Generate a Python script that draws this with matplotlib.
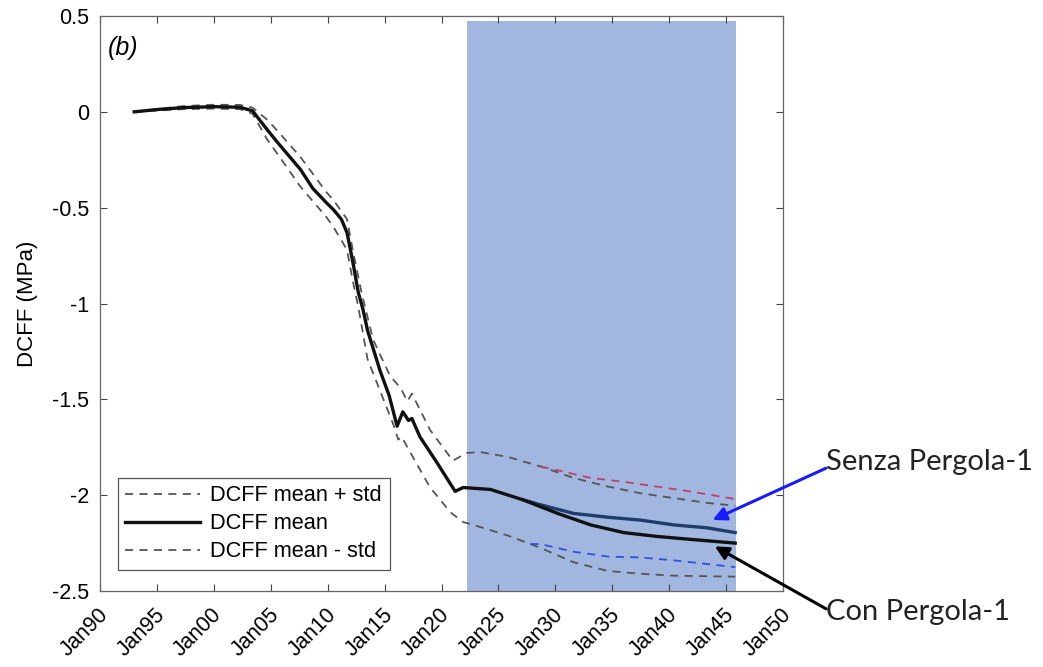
import matplotlib
matplotlib.use('Agg')
import matplotlib.pyplot as plt
import matplotlib.transforms as mtransforms
import numpy as np

# DCFF time series (x in decimal years)
mean_years = [1993.0, 1995.0, 1997.3, 2000.0, 2002.3, 2003.4, 2004.7, 2005.6, 2007.6,
              2008.7, 2009.9, 2010.5, 2011.2, 2011.7, 2012.2, 2012.7, 2013.1, 2013.5,
              2014.6, 2015.4, 2016.1, 2016.6, 2017.1, 2017.4, 2018.1, 2019.6, 2021.2,
              2021.9, 2024.3, 2027.2, 2030.2, 2033.1, 2036.0, 2038.9, 2041.8, 2045.8]
mean_vals = [0.000, 0.012, 0.022, 0.027, 0.024, 0.005, -0.094, -0.16, -0.30,
             -0.40, -0.475, -0.51, -0.56, -0.63, -0.78, -0.945, -1.03, -1.14,
             -1.35, -1.48, -1.64, -1.565, -1.61, -1.60, -1.695, -1.83, -1.98,
             -1.96, -1.97, -2.025, -2.095, -2.155, -2.195, -2.215, -2.23, -2.25]

upper_years = [1993.0, 1997.3, 2000.0, 2002.3, 2003.4, 2004.7, 2005.6, 2007.6, 2009.9,
               2010.5, 2011.7, 2012.2, 2013.0, 2014.0, 2015.5, 2016.4, 2017.0, 2017.4,
               2019.0, 2021.0, 2022.2, 2023.4, 2025.8, 2028.7, 2031.6, 2034.6, 2037.5,
               2040.4, 2043.3, 2045.8]
upper_vals = [0.000, 0.030, 0.037, 0.036, 0.022, -0.042, -0.10, -0.235, -0.42,
              -0.46, -0.56, -0.72, -0.95, -1.19, -1.38, -1.44, -1.51, -1.47,
              -1.66, -1.82, -1.78, -1.775, -1.80, -1.85, -1.91, -1.955, -1.99,
              -2.015, -2.04, -2.055]

lower_years = [1993.0, 1997.3, 2000.0, 2002.3, 2003.4, 2004.7, 2005.6, 2007.6, 2009.9,
               2010.5, 2011.7, 2012.2, 2012.7, 2013.5, 2015.7, 2016.2, 2016.5, 2017.1,
               2019.0, 2020.8, 2021.9, 2022.8, 2025.8, 2028.7, 2031.6, 2034.6, 2037.5,
               2040.4, 2045.8]
lower_vals = [0.000, 0.014, 0.017, 0.014, -0.01, -0.146, -0.22, -0.39, -0.55,
              -0.60, -0.72, -0.88, -1.02, -1.29, -1.62, -1.71, -1.695, -1.76,
              -1.96, -2.09, -2.14, -2.155, -2.21, -2.275, -2.35, -2.395, -2.41,
              -2.42, -2.425]

# "Senza Pergola-1" scenario (diverges from the mean after ~2027)
senza_years = [2027.2, 2028.7, 2031.6, 2034.6, 2037.5, 2040.4, 2043.3, 2045.8]
senza_vals = [-2.025, -2.05, -2.095, -2.115, -2.13, -2.155, -2.17, -2.195]
senza_up_years = [2028.7, 2030.2, 2033.1, 2036.0, 2038.9, 2041.8, 2045.8]
senza_up_vals = [-1.85, -1.87, -1.91, -1.93, -1.955, -1.98, -2.02]
senza_lo_years = [2027.8, 2028.7, 2031.6, 2034.6, 2037.5, 2040.4, 2045.8]
senza_lo_vals = [-2.255, -2.255, -2.295, -2.32, -2.325, -2.34, -2.375]

tick_years = list(range(1990, 2051, 5))
tick_labels = ['Jan90', 'Jan95', 'Jan00', 'Jan05', 'Jan10', 'Jan15', 'Jan20',
               'Jan25', 'Jan30', 'Jan35', 'Jan40', 'Jan45', 'Jan50']
shade_start, shade_end = 2022.25, 2045.9

plt.rcParams['font.family'] = ['Liberation Sans', 'DejaVu Sans']

fig = plt.figure(figsize=(10.43, 6.67), dpi=100)
ax = fig.add_axes([0.0959, 0.1139, 0.6548, 0.8621])

ax.fill_between([shade_start, shade_end], -2.5, 0.475, color='#a1b7e0', lw=0, zorder=0)

grey = '#555555'
dash = (0, (4.5, 3.5))
ax.plot(upper_years, upper_vals, color=grey, lw=1.3, linestyle=dash, label='DCFF mean + std', zorder=2)
ax.plot(mean_years, mean_vals, color='#111111', lw=2.4, label='DCFF mean', zorder=4)
ax.plot(lower_years, lower_vals, color=grey, lw=1.3, linestyle=dash, label='DCFF mean - std', zorder=2)

ax.plot(senza_up_years, senza_up_vals, color='#c0406a', lw=1.3, linestyle=dash, zorder=3)
ax.plot(senza_lo_years, senza_lo_vals, color='#2f50e0', lw=1.3, linestyle=dash, zorder=3)
ax.plot(senza_years, senza_vals, color='#1f3d6b', lw=2.4, zorder=3)

ax.set_xlim(1990, 2050)
ax.set_ylim(-2.5, 0.5)
ax.set_xticks(tick_years)
ax.set_xticklabels(tick_labels, rotation=45, ha='right', va='center', rotation_mode='anchor')
ax.set_yticks([0.5, 0, -0.5, -1, -1.5, -2, -2.5])
ax.set_yticklabels(['0.5', '0', '-0.5', '-1', '-1.5', '-2', '-2.5'])
ax.tick_params(direction='in', top=True, right=True, length=5, width=0.8,
               color='#444444', labelsize=15.5)
ax.tick_params(axis='y', pad=8)
ax.tick_params(axis='x', pad=15)
shift = mtransforms.ScaledTranslation(5 / 100, 0, fig.dpi_scale_trans)
for lbl in ax.get_xticklabels():
    lbl.set_transform(lbl.get_transform() + shift)
for s in ax.spines.values():
    s.set_color('#666666')
    s.set_linewidth(0.9)
ax.set_ylabel('DCFF (MPa)', fontsize=16, labelpad=10)

ax.text(0.012, 0.944, '(b)', transform=ax.transAxes, fontsize=18, style='italic',
        ha='left', va='center')

leg = ax.legend(loc='lower left', bbox_to_anchor=(0.026, 0.0365), borderaxespad=0,
                fancybox=False, edgecolor='#555555', framealpha=1, fontsize=15.7,
                handlelength=3.4, handletextpad=0.5, labelspacing=0.32,
                borderpad=0.35)
leg.get_frame().set_linewidth(0.9)

# annotations for the two scenarios
ax.annotate('', xy=(2043.6, -2.135), xytext=(2054.0, -1.853),
            arrowprops=dict(arrowstyle='-|>', color='#1a1aff', lw=2.2, mutation_scale=20),
            annotation_clip=False)
ax.annotate('', xy=(2043.8, -2.26), xytext=(2054.0, -2.60),
            arrowprops=dict(arrowstyle='-|>', color='black', lw=2.2, mutation_scale=20),
            annotation_clip=False)
fig.text(826 / 1043, 1 - 462 / 667, 'Senza Pergola-1', fontsize=21, family=['Lato', 'DejaVu Sans'],
         ha='left', va='center', color='#222222')
fig.text(826 / 1043, 1 - 612 / 667, 'Con Pergola-1', fontsize=21, family=['Lato', 'DejaVu Sans'],
         ha='left', va='center', color='#222222')

fig.savefig('out.png', dpi=100)
